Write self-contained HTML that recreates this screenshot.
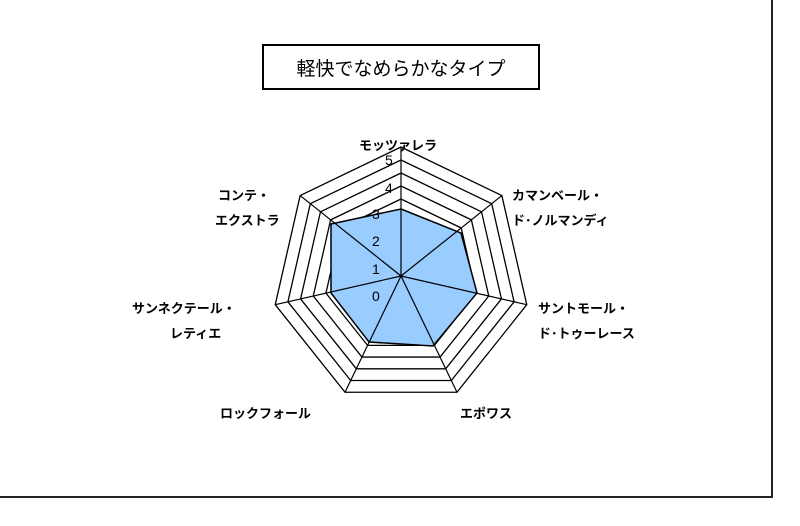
<!DOCTYPE html>
<html><head><meta charset="utf-8"><style>
html,body{margin:0;padding:0;background:#fff;}
svg text{font-family:"Liberation Sans","Noto Sans CJK JP",sans-serif;fill:#000;}
</style></head><body>
<svg width="800" height="521" viewBox="0 0 800 521" xmlns="http://www.w3.org/2000/svg">
<rect width="800" height="521" fill="#fff"/>
<path d="M772 0 V497 H0" fill="none" stroke="#222" stroke-width="2"/>
<rect x="263" y="45" width="276" height="44" fill="#fff" stroke="#000" stroke-width="2"/>
<text x="401" y="75" font-size="19" text-anchor="middle">軽快でなめらかなタイプ</text>
<g fill="none" stroke="#000" stroke-width="1.3" id="rings"></g>
<polygon points="401,209 461,233 477,293 433,346 369,342 331,293 331,224" fill="#99ccff" stroke="#000" stroke-width="1.5"/>
<g id="spokes" stroke="#000" stroke-width="1.2"></g>
<g font-size="14">
<text x="385" y="165">5</text>
<text x="385" y="193">4</text>
<text x="372" y="219">3</text>
<text x="372" y="246">2</text>
<text x="372" y="274">1</text>
<text x="372" y="301">0</text>
</g>
<g font-size="13" font-weight="bold">
<text x="398" y="150" text-anchor="middle">モッツァレラ</text>
<text x="512" y="200">カマンベール・</text>
<text x="512" y="225">ド･ノルマンディ</text>
<text x="538" y="313">サントモール・</text>
<text x="538" y="338">ド･トゥーレース</text>
<text x="460" y="418">エポワス</text>
<text x="220" y="418">ロックフォール</text>
<text x="132" y="313">サンネクテール・</text>
<text x="170" y="338">レティエ</text>
<text x="218" y="200">コンテ・</text>
<text x="215" y="225">エクストラ</text>
</g>
</svg>
<script>
var cx=401,cy=276,ns="http://www.w3.org/2000/svg";
var rings=[129,116,103,90,77];
var g=document.getElementById("rings"),s=document.getElementById("spokes");
function pt(r,i){var a=2*Math.PI*i/7;return [cx+r*Math.sin(a),cy-r*Math.cos(a)];}
rings.forEach(function(r){var p=[];for(var i=0;i<7;i++)p.push(pt(r,i).join(","));var e=document.createElementNS(ns,"polygon");e.setAttribute("points",p.join(" "));g.appendChild(e);});
for(var i=0;i<7;i++){var q=pt(129,i);var l=document.createElementNS(ns,"line");l.setAttribute("x1",cx);l.setAttribute("y1",cy);l.setAttribute("x2",q[0]);l.setAttribute("y2",q[1]);s.appendChild(l);}
</script>
</body></html>
